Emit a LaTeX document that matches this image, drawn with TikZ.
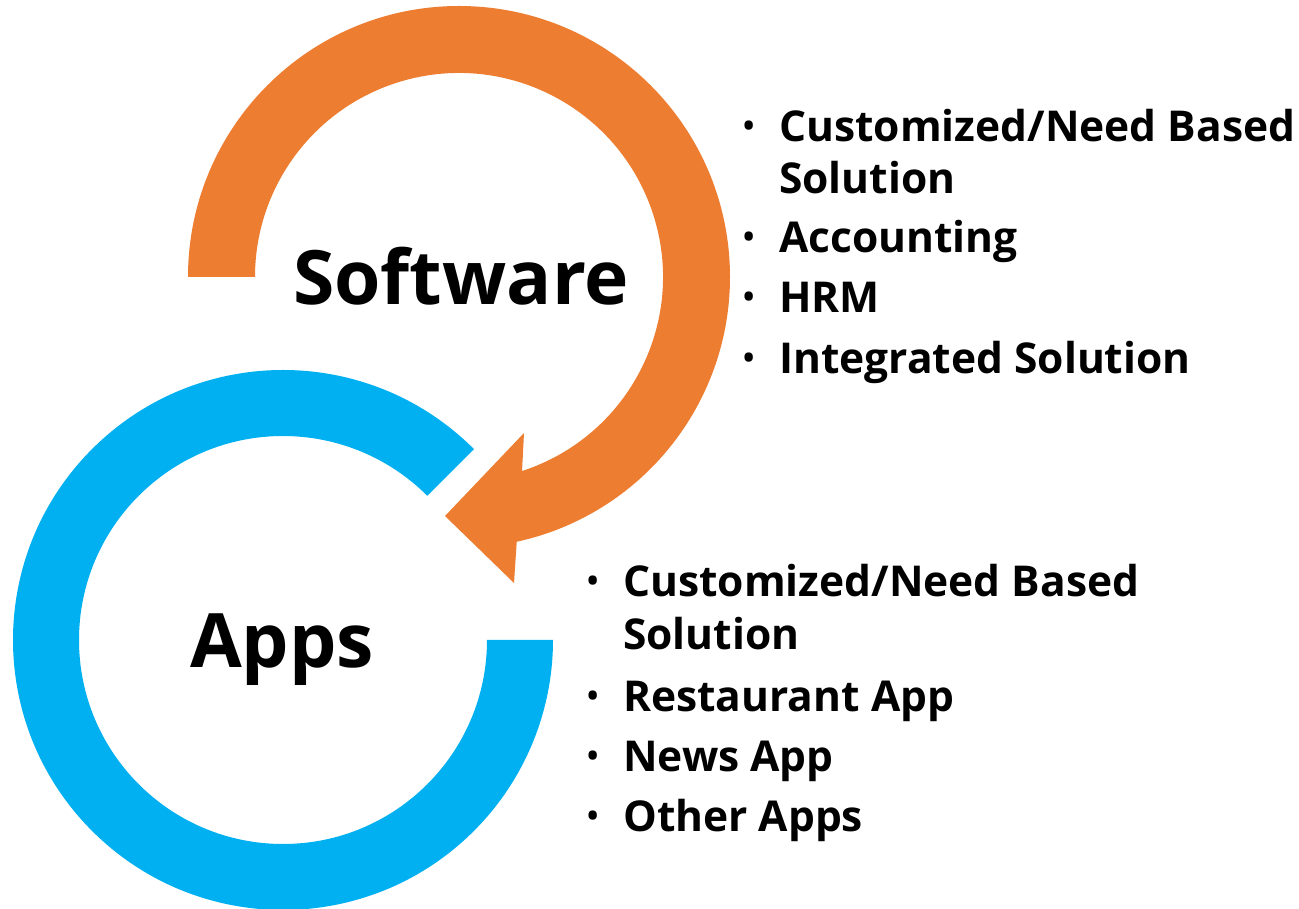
\documentclass[tikz,border=0pt]{standalone}
\usepackage{fontspec}
\setmainfont{Open Sans}
\definecolor{swOrange}{HTML}{ED7D31}
\definecolor{apBlue}{HTML}{00B0F0}
\tikzset{
  title/.style={anchor=base west,inner sep=0pt,font=\bfseries\fontsize{75}{75}\selectfont},
  item/.style={anchor=base west,inner sep=0pt,font=\bfseries\fontsize{42.5}{42.5}\selectfont},
  dot/.style={anchor=base west,inner sep=0pt,font=\bfseries\fontsize{30}{30}\selectfont}
}
\begin{document}
\begin{tikzpicture}[x=1pt,y=1pt]
	\useasboundingbox (0,0) rectangle (1299,908);
%	centres of the two rings
	\coordinate (cs) at (459,631);
	\coordinate (ca) at (283,268);
%	arrow head of the software ring
	\coordinate (hb) at (514,325);
	\coordinate (ht) at (445,392);
	\coordinate (hu) at (524,475);

	\fill[swOrange] ([shift={(cs)}]180:271) arc[start angle=180,end angle=-77.7,radius=271]
		-- (hb) -- (ht) -- (hu)
		-- ([shift={(cs)}]-72:204) arc[start angle=-72,end angle=180,radius=204] -- cycle;
	\fill[apBlue] ([shift={(ca)}]45:270) arc[start angle=45,end angle=360,radius=270]
		-- ([shift={(ca)}]0:204) arc[start angle=360,end angle=45,radius=204] -- cycle;

	\node[title] (sw) at (293,603) {Software};
	\node[title] (ap) at (190,240) {Apps};

	\node[dot] (d1) at (743,771) {•};
	\node[item] (s1) at (779,766) {Customized/Need Based};
	\node[item] (s1b) at (779,714) {Solution};
	\node[dot] (d2) at (743,660) {•};
	\node[item] (s2) at (779,655) {Accounting};
	\node[dot] (d3) at (743,600) {•};
	\node[item] (s3) at (779,595) {HRM};
	\node[dot] (d4) at (743,539) {•};
	\node[item] (s4) at (779,534) {Integrated Solution};

	\node[dot] (e1) at (587,316) {•};
	\node[item] (a1) at (623,311) {Customized/Need Based};
	\node[item] (a1b) at (623,258) {Solution};
	\node[dot] (e2) at (587,201) {•};
	\node[item] (a2) at (623,196) {Restaurant App};
	\node[dot] (e3) at (587,141) {•};
	\node[item] (a3) at (623,136) {News App};
	\node[dot] (e4) at (587,81) {•};
	\node[item] (a4) at (623,76) {Other Apps};
\end{tikzpicture}
\end{document}
